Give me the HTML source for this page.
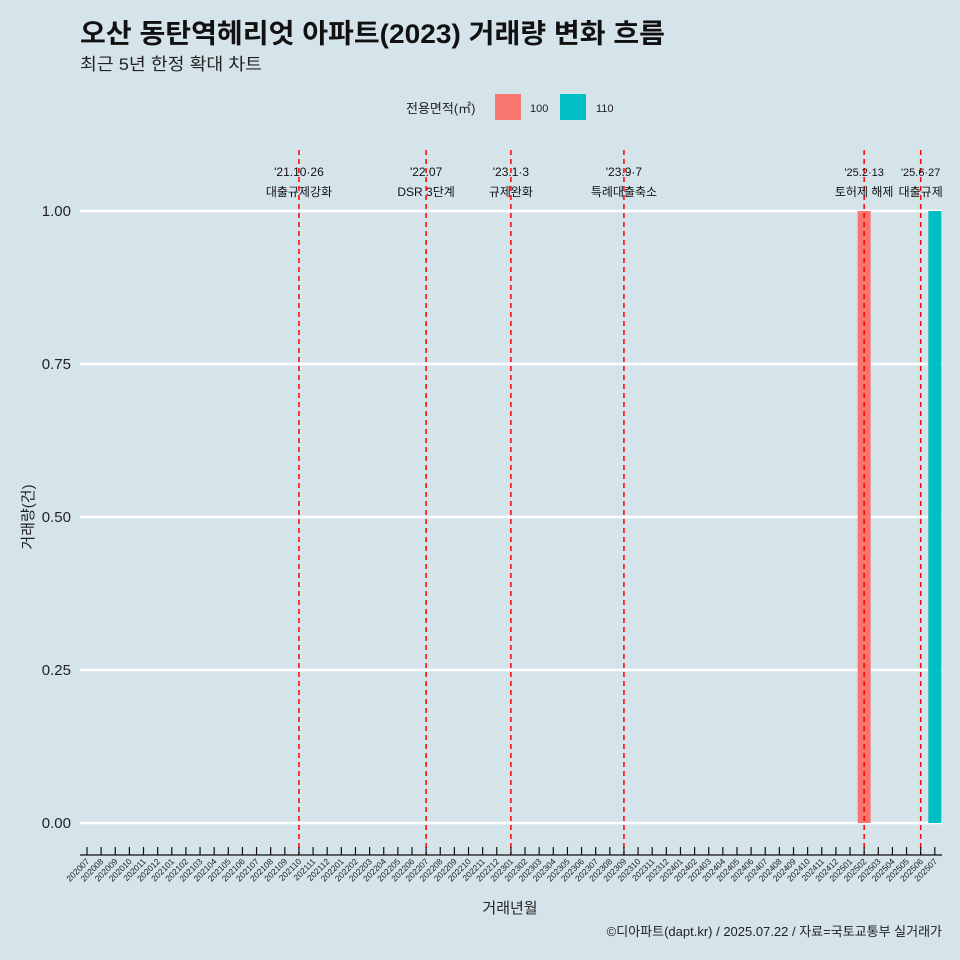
<!DOCTYPE html>
<html><head><meta charset="utf-8">
<style>
html,body{margin:0;padding:0;background:#d5e4eb;}
svg{display:block;font-family:"Liberation Sans","Noto Sans CJK KR",sans-serif;}
</style></head>
<body>
<svg id="chart" width="960" height="960" viewBox="0 0 960 960">
<rect width="960" height="960" fill="#d5e4eb"/>
<text x="80" y="43" font-size="27" font-weight="bold" fill="#111" textLength="585" lengthAdjust="spacingAndGlyphs">오산 동탄역헤리엇 아파트(2023) 거래량 변화 흐름</text>
<text x="80" y="70" font-size="17" fill="#222" textLength="182" lengthAdjust="spacingAndGlyphs">최근 5년 한정 확대 차트</text>
<g>
<text x="406" y="113" font-size="13" fill="#222">전용면적(㎡)</text>
<rect x="495" y="94" width="26" height="26" fill="#f8766d"/>
<text x="530" y="112" font-size="11" fill="#222">100</text>
<rect x="560" y="94" width="26" height="26" fill="#00bfc4"/>
<text x="596" y="112" font-size="11" fill="#222">110</text>
</g>
<g id="plot"></g>
<text x="510" y="913" font-size="15" text-anchor="middle" fill="#222">거래년월</text>
<text transform="translate(33,517) rotate(-90)" font-size="15" text-anchor="middle" fill="#222">거래량(건)</text>
<text x="942" y="936" font-size="13" text-anchor="end" fill="#222">©디아파트(dapt.kr) / 2025.07.22 / 자료=국토교통부 실거래가</text>
</svg>
<script>
const months = [];
for (let y = 2020; y <= 2025; y++) for (let m = 1; m <= 12; m++) {
  const k = y * 100 + m; if (k >= 202007 && k <= 202507) months.push(String(k));
}
const barMonths = ["202502", "202507"];
const barValues = [1, 1];
const barSeries = ["100", "110"];
const yTicks = [0, 0.25, 0.5, 0.75, 1.0];
const yTickLabels = ["0.00", "0.25", "0.50", "0.75", "1.00"];
const eventMonths = ["202110", "202207", "202301", "202309", "202502", "202506"];
const eventDates = ["'21.10·26", "'22.07", "'23.1·3", "'23.9·7", "'25.2·13", "'25.6·27"];
const eventNames = ["대출규제강화", "DSR 3단계", "규제완화", "특례대출축소", "토허제 해제", "대출규제"];
const colors = {"100": "#f8766d", "110": "#00bfc4"};

const NS = "http://www.w3.org/2000/svg";
const plot = document.getElementById("plot");
const x0 = 87, dx = 14.13, yBase = 823, yTop = 211;
const xs = m => x0 + months.indexOf(m) * dx;
const ys = v => yBase - (v / 1.0) * (yBase - yTop);
function mk(tag, attrs, parent) {
  const e = document.createElementNS(NS, tag);
  for (const k in attrs) e.setAttribute(k, attrs[k]);
  (parent || plot).appendChild(e);
  return e;
}
yTicks.forEach((t, i) => {
  const g = mk("line", {x1: 80, x2: 942, y1: ys(t), y2: ys(t), stroke: "#fff", "stroke-width": 2.6});
  
  
  const tx = mk("text", {x: 71, y: ys(t) + 5, "font-size": 15, "text-anchor": "end", fill: "#222"});
  tx.textContent = yTickLabels[i];
  
  
});
barMonths.forEach((m, i) => {
  const r = mk("rect", {x: xs(m) - 6.5, y: ys(barValues[i]), width: 13, height: yBase - ys(barValues[i]), fill: colors[barSeries[i]]});
  
  
});
eventMonths.forEach((m, i) => {
  const x = xs(m);
  const l = mk("line", {x1: x, x2: x, y1: 150, y2: 855, stroke: "#ff0000", "stroke-width": 1.5, "stroke-dasharray": "5,4"});
  
  
  const small = i >= 4;
  const t1 = mk("text", {x: x, y: 176, "font-size": small ? 11 : 12, "text-anchor": "middle", fill: "#111"});
  t1.textContent = eventDates[i];
  
  
  const t2 = mk("text", {x: x, y: 196, "font-size": 12, "text-anchor": "middle", fill: "#111"});
  t2.textContent = eventNames[i];
  
  
});
const ax = mk("line", {x1: 80, x2: 942, y1: 855, y2: 855, stroke: "#111", "stroke-width": 1.2});


months.forEach(m => {
  const x = xs(m);
  const tk = mk("line", {x1: x, x2: x, y1: 847, y2: 855, stroke: "#111", "stroke-width": 1.2});
  
  
  const tx = mk("text", {transform: `translate(${x + 3},862) rotate(-45)`, "font-size": 8.5, "text-anchor": "end", fill: "#222"});
  tx.textContent = m;
  
  
});
</script>
</body></html>
